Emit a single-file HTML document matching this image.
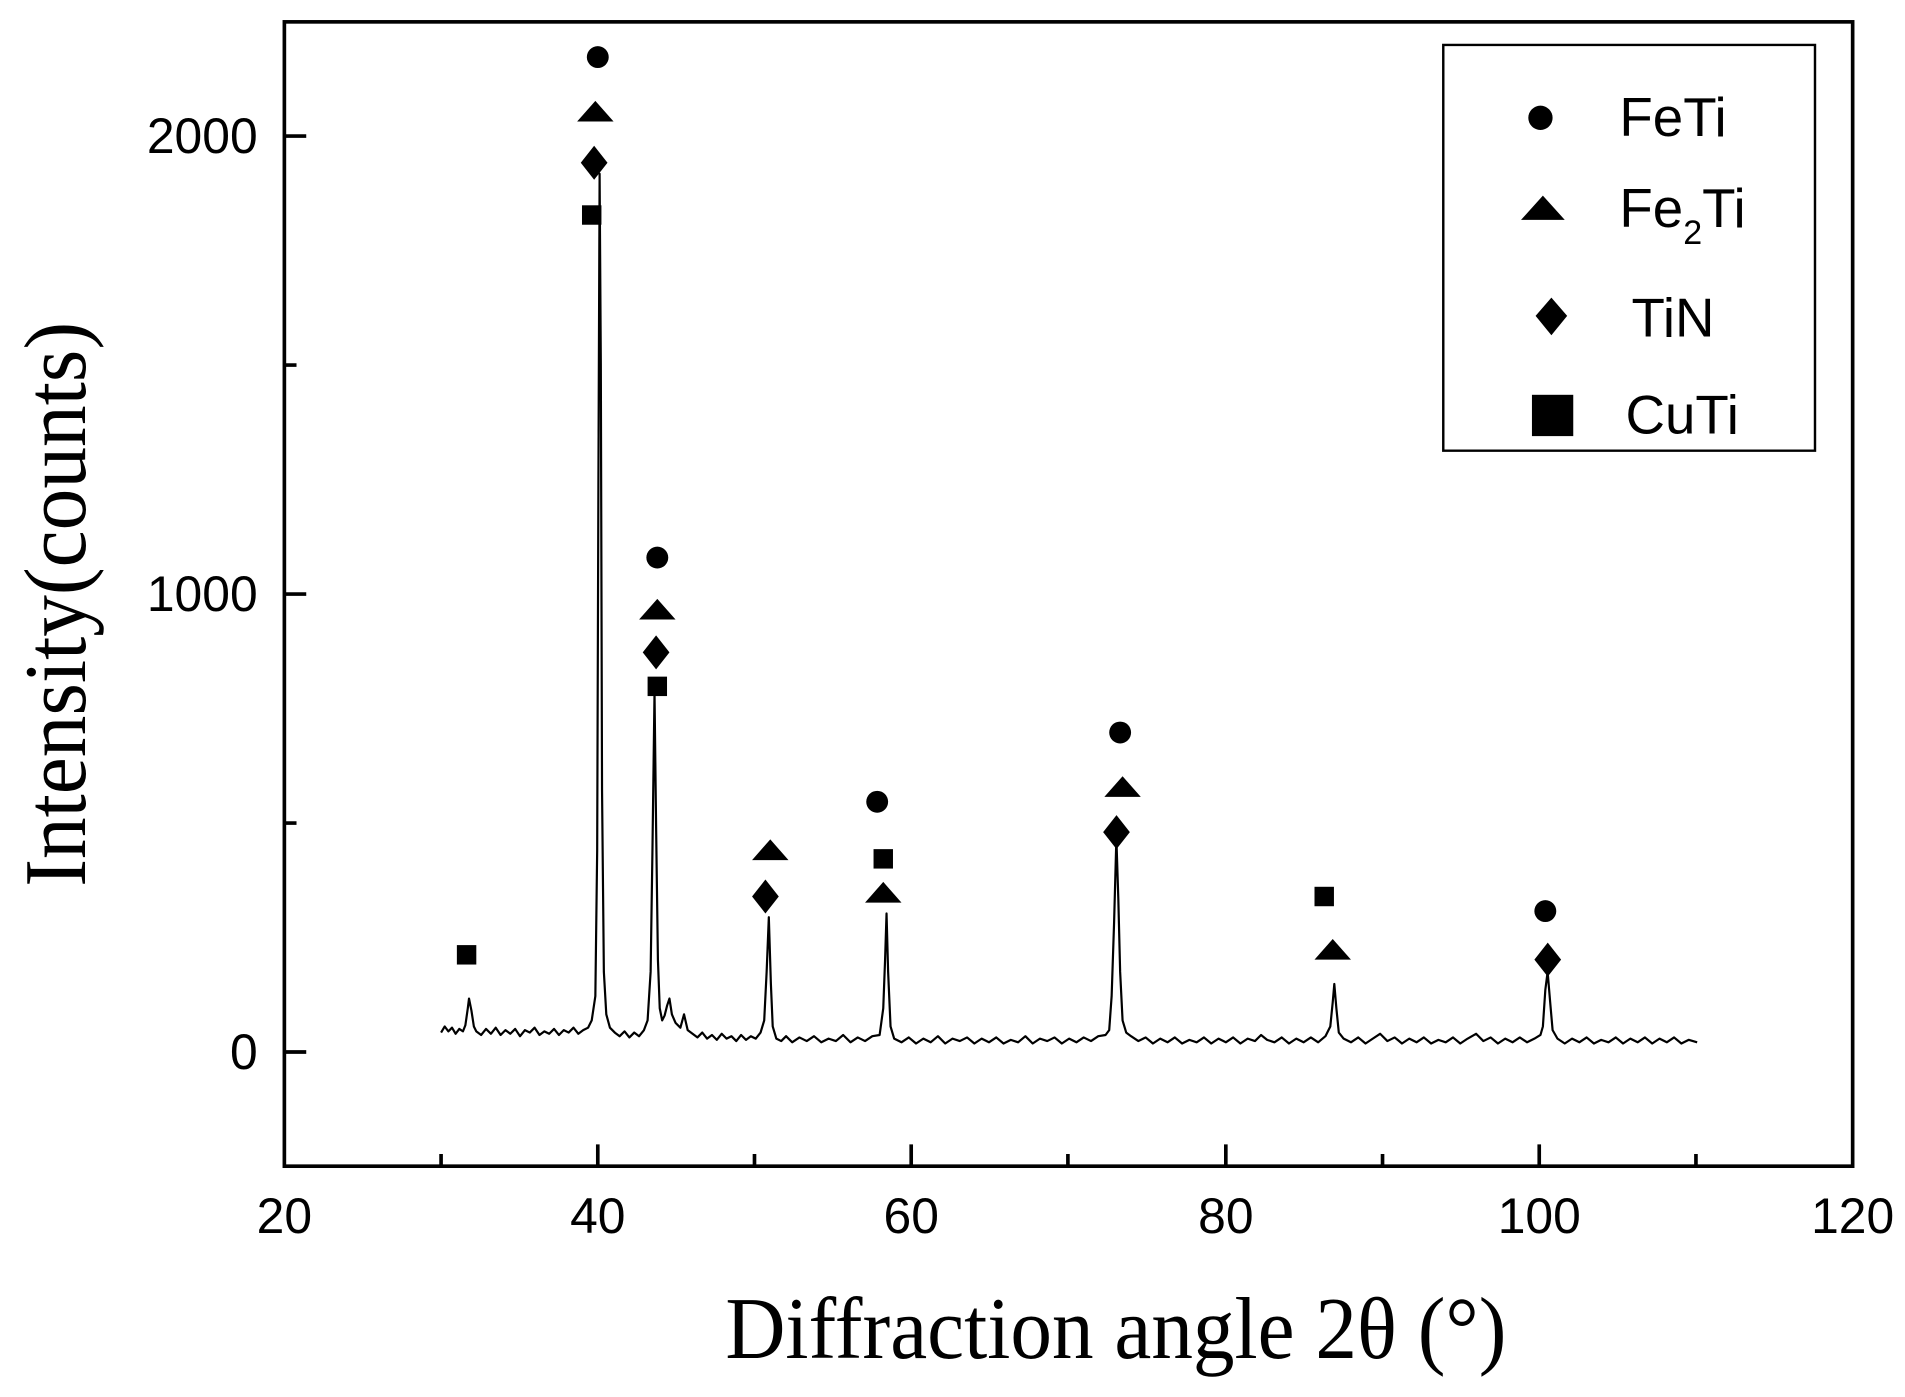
<!DOCTYPE html>
<html><head><meta charset="utf-8"><style>html,body{margin:0;padding:0;background:#fff}svg{display:block}</style></head>
<body>
<svg xmlns="http://www.w3.org/2000/svg" width="1905" height="1397" viewBox="0 0 1568 1150">
<rect width="1568" height="1150" fill="#fff"/>
<path d="M363 960V950M492 960V942M621 960V950M750 960V942M879 960V950M1009 960V942M1138 960V950M1267 960V942M1396 960V950M234 866H252M234 489H252M234 112H252M234 677.5H244M234 300.5H244" stroke="#000" stroke-width="3" fill="none"/>
<path fill="none" stroke="#000" stroke-width="1.8" stroke-linejoin="round" d="M363 850 L366 845 L369 849 L372 846 L375 851 L378 847 L381 849 L383 844 L385 830 L386 822 L388 832 L390 845 L392 849 L396 852 L400 847 L404 851 L408 846 L412 852 L416 848 L420 851 L424 847 L428 853 L432 848 L436 850 L440 846 L444 852 L448 849 L452 851 L456 847 L460 852 L464 848 L468 850 L472 846 L476 851 L480 848 L484 846 L487 840 L490 820 L491.5 700 L492.5 400 L493.5 143 L494.5 300 L495.5 650 L497 800 L499 835 L502 846 L506 850 L510 853 L514 849 L518 854 L522 850 L526 853 L530 848 L533 840 L535.5 800 L537 700 L538.7 570 L540 680 L541.5 790 L543 830 L545 840 L547 836 L549 828 L551 822 L553 835 L556 842 L560 846 L563 835 L566 848 L570 851 L574 854 L578 850 L582 855 L586 852 L590 856 L594 851 L598 855 L602 853 L606 857 L610 852 L614 856 L618 853 L622 855 L626 850 L629 840 L631 800 L632.8 755 L634.5 810 L636 845 L639 855 L643 857 L647 853 L652 858 L658 854 L664 857 L670 853 L676 858 L682 855 L688 857 L694 852 L700 858 L706 854 L712 857 L718 853 L724 852 L727 830 L728.5 790 L729.7 752 L731 800 L733 845 L736 855 L742 858 L748 854 L754 859 L760 855 L766 858 L772 853 L778 859 L784 855 L790 857 L796 854 L802 859 L808 855 L814 858 L820 854 L826 859 L832 856 L838 858 L844 853 L850 859 L856 855 L862 857 L868 854 L874 859 L880 855 L886 858 L892 854 L898 857 L904 853 L910 852 L913 848 L915 820 L917 760 L918.9 690 L920.5 740 L922 800 L924 840 L927 850 L931 853 L937 857 L943 854 L949 859 L955 855 L961 858 L967 854 L973 859 L979 856 L985 858 L991 854 L997 859 L1003 855 L1009 858 L1015 854 L1021 859 L1027 855 L1033 857 L1038 852 L1043 856 L1049 858 L1055 854 L1061 859 L1067 855 L1073 858 L1079 854 L1085 858 L1091 853 L1095 845 L1097 825 L1098.3 810 L1100 830 L1102 850 L1106 855 L1112 858 L1118 854 L1124 859 L1130 855 L1136 851 L1142 857 L1148 854 L1154 859 L1160 855 L1166 858 L1172 854 L1178 859 L1184 856 L1190 858 L1196 854 L1202 859 L1208 855 L1215 851 L1221 857 L1227 854 L1233 859 L1239 855 L1245 858 L1251 854 L1257 858 L1263 855 L1268 852 L1270 845 L1272 815 L1273.9 800 L1276 825 L1278 848 L1282 855 L1288 859 L1294 855 L1300 858 L1306 854 L1312 859 L1318 856 L1324 858 L1330 854 L1336 859 L1342 855 L1348 858 L1354 854 L1360 859 L1366 855 L1372 858 L1378 854 L1384 859 L1390 856 L1397 858"/>
<g fill="#000">
<circle cx="492" cy="47" r="9"/><polygon points="475,100 505,100 490,83"/><polygon points="489,120 500,134 489,148 478,134"/><rect x="479" y="169" width="16" height="16"/>
<circle cx="541" cy="459" r="9"/><polygon points="526,510 556,510 541,493"/><polygon points="540,523 551,537 540,551 529,537"/><rect x="533" y="557" width="16" height="16"/>
<polygon points="619,708 649,708 634,691"/><polygon points="630,724 641,738 630,752 619,738"/>
<circle cx="722" cy="660" r="9"/><rect x="719" y="699" width="16" height="16"/><polygon points="712,743 742,743 727,726"/>
<circle cx="922" cy="603" r="9"/><polygon points="909,656 939,656 924,639"/><polygon points="919,671 930,685 919,699 908,685"/>
<rect x="1082" y="730" width="16" height="16"/><polygon points="1082,790 1112,790 1097,773"/>
<circle cx="1272" cy="750" r="9"/><polygon points="1274,776 1285,790 1274,804 1263,790"/>
<rect x="376" y="778" width="16" height="16"/>
</g>
<rect x="234" y="18" width="1291" height="942" fill="none" stroke="#000" stroke-width="3"/>
<g font-family="Liberation Sans, Arial, sans-serif" font-size="41" fill="#000">
<text x="212" y="126" text-anchor="end">2000</text>
<text x="212" y="503" text-anchor="end">1000</text>
<text x="212" y="880" text-anchor="end">0</text>
<text x="234" y="1015" text-anchor="middle">20</text>
<text x="492" y="1015" text-anchor="middle">40</text>
<text x="750" y="1015" text-anchor="middle">60</text>
<text x="1009" y="1015" text-anchor="middle">80</text>
<text x="1267" y="1015" text-anchor="middle">100</text>
<text x="1525" y="1015" text-anchor="middle">120</text>
</g>
<g font-family="Liberation Serif, Times New Roman, serif" font-size="72" fill="#000">
<text x="597" y="1118" textLength="643" lengthAdjust="spacingAndGlyphs">Diffraction angle 2θ (°)</text>
<text transform="translate(70,730) rotate(-90)" textLength="465" lengthAdjust="spacingAndGlyphs">Intensity(counts)</text>
</g>
<g fill="#000">
<path d="M1188 37 H1494 V371 H1188 Z" fill="#fff" stroke="#000" stroke-width="2"/>
<circle cx="1268" cy="97" r="10"/>
<polygon points="1252,181 1288,181 1270,161"/>
<polygon points="1277,245 1290,260 1277,276 1264,260"/>
<rect x="1261" y="325" width="34" height="34"/>
<g font-family="Liberation Sans, Arial, sans-serif" font-size="45">
<text x="1333" y="112">FeTi</text>
<text x="1333" y="187">Fe<tspan font-size="28" dy="14">2</tspan><tspan dy="-14">Ti</tspan></text>
<text x="1343" y="277">TiN</text>
<text x="1338" y="357">CuTi</text>
</g>
</g>
</svg>
</body></html>
